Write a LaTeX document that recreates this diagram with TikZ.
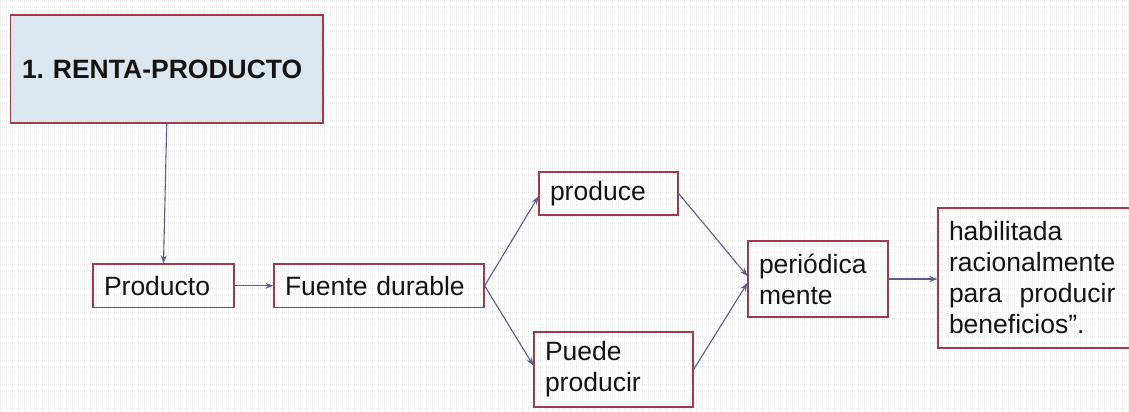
\documentclass[tikz,border=0pt]{standalone}
\usepackage{fontspec}
\usepackage{calc}
\setmainfont{Liberation Sans}
\frenchspacing
\usetikzlibrary{arrows.meta,calc}
\definecolor{boxred}{HTML}{A33A4A}
\definecolor{titlefill}{HTML}{DCE6EE}
\definecolor{arrowcol}{HTML}{5A5A8C}
\definecolor{gridcol}{HTML}{EDEDED}
\tikzset{
  box/.style={draw=boxred, line width=1.3pt, rectangle, inner xsep=11pt, inner ysep=0pt,
    align=left, font=\fontsize{26.5}{31}\selectfont, text=black!92},
  arr/.style={draw=arrowcol, line width=1.1pt, -{Stealth[length=8pt,width=6pt]}},
}
\begin{document}
\begin{tikzpicture}[x=1pt,y=-1pt]
  \useasboundingbox (0,0) rectangle (1129,412);
  \clip (0,0) rectangle (1129,412);
  \fill[white] (0,0) rectangle (1129,412);
  % faint dotted squared paper behind the chart
  \draw[gridcol, line width=0.5pt, dash pattern=on 0.8pt off 1.2pt, step=6pt] (0,0) grid (1129,412);

  % boxes
  \node[box, fill=titlefill, minimum width=312.5pt, minimum height=108pt, text width=289.5pt,
        font=\fontsize{26.5}{30}\selectfont\bfseries] (title) at (166.75,69) {1. RENTA-PRODUCTO};
  \node[box, minimum width=141pt, minimum height=43.5pt, text width=119pt] (prod) at (163.5,285.75) {Producto};
  \node[box, minimum width=210pt, minimum height=43.5pt, text width=188pt] (fuente) at (379,285.75) {Fuente durable};
  \node[box, minimum width=139pt, minimum height=43pt, text width=117pt] (produce) at (608.5,193.5) {produce};
  \node[box, minimum width=159pt, minimum height=75pt, text width=137pt] (puede) at (613.5,369.5) {Puede\\producir};
  \node[box, minimum width=140pt, minimum height=76pt, text width=118pt] (per) at (818,279) {periódica\\mente};
  % the last box runs on past the right edge of the page
  \node[box, minimum width=240pt, minimum height=140pt, text width=218pt] (hab) at (1058,278)
    {habilitada\\racionalmente\\\makebox[\widthof{racionalmente}][l]{para\hfill producir}\\beneficios”.};

  % connectors
  \draw[arr] (title.south) -- (prod.north);
  \draw[arr] (prod.east) -- (fuente.west);
  \draw[arr] (fuente.east) -- ($(produce.west)+(0,3)$);
  \draw[arr] (fuente.east) -- ($(puede.west)+(0,-4)$);
  \draw[arr] (produce.east) -- ($(per.west)+(0,-3)$);
  \draw[arr] (puede.east) -- ($(per.west)+(0,4)$);
  \draw[arr] (per.east) -- (hab.west |- per.east);
\end{tikzpicture}
\end{document}
